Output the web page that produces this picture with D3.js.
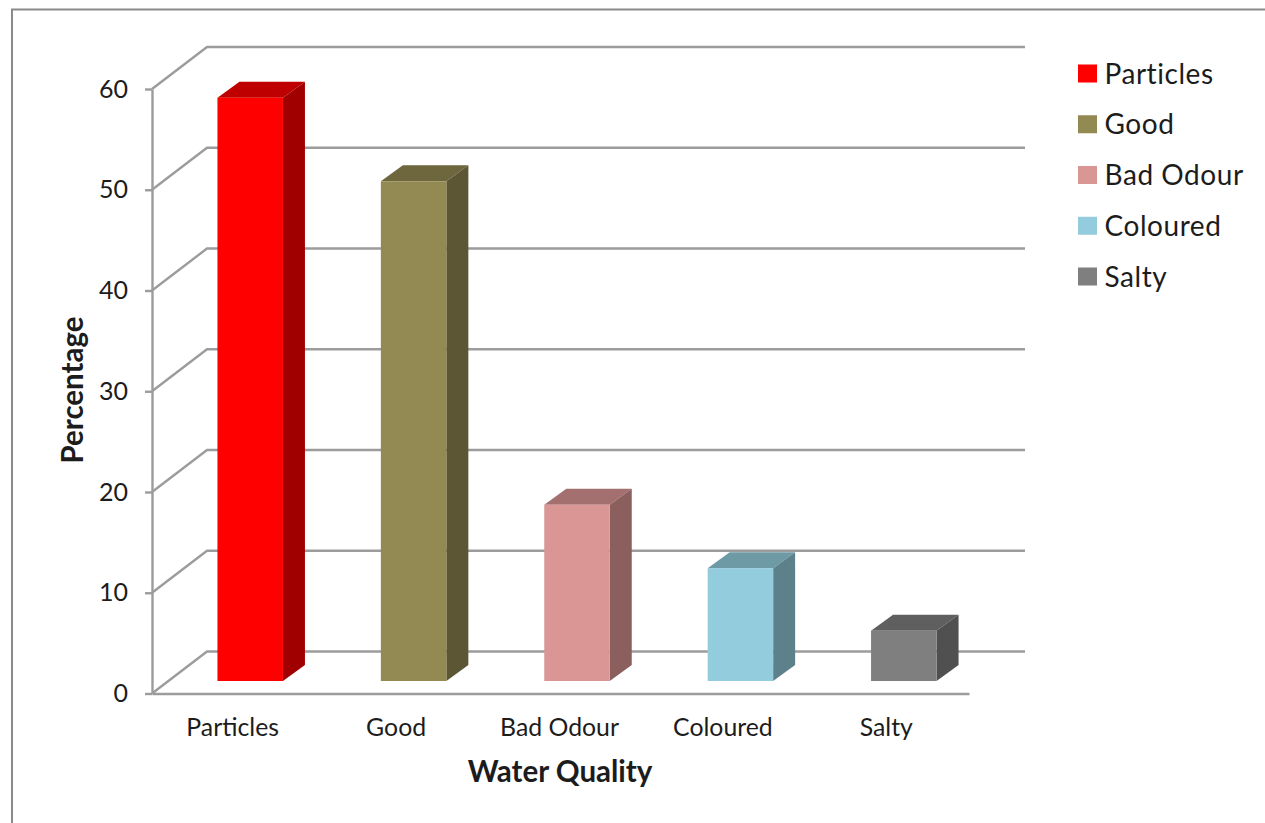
<!DOCTYPE html>
<html><head><meta charset="utf-8">
<script src="https://cdn.jsdelivr.net/npm/d3@7/dist/d3.min.js"></script>
<style>html,body{margin:0;padding:0;background:#fff}svg{display:block}text{font-family:Lato,"Open Sans",sans-serif;fill:#1c1c1c}</style>
</head><body><svg id="c" width="1265" height="823"></svg>
<script>
const categories=["Particles","Good","Bad Odour","Coloured","Salty"];
const values=[57.9,49.6,17.5,11.2,5];
const frontColors=["#ff0000","#938953","#d99694","#93cddd","#7f7f7f"];
const topColors=["#bf0000","#6e673e","#a3706f","#6e9aa6","#5f5f5f"];
const sideColors=["#a00000","#5c5634","#8a5f5e","#5c818b","#505050"];
const yTicks=[0,10,20,30,40,50,60];
const xTitle="Water Quality", yTitle="Percentage";

const svg=d3.select("#c");
const grid="#9c9c9c";
const y=d3.scaleLinear().domain([0,60]).range([693.5,89]);
const x=d3.scaleBand().domain(categories).range([152,969]);
const wallDx=55, wallDy=-42, barBaseDx=16.5, barBaseDy=-12.5, barW=65.5, depthX=22, depthY=-16;

// frame
svg.append("path").attr("d","M12,823V9.5H1265").attr("fill","none").attr("stroke","#8a8a8a").attr("stroke-width",2);

// gridlines: floor/side wall and back wall
svg.append("g").selectAll("path").data(yTicks).join("path")
 .attr("d",d=>`M${x.range()[0]},${y(d)}L${x.range()[0]+wallDx},${y(d)+wallDy}H1025`)
 .attr("fill","none").attr("stroke",grid).attr("stroke-width",2.4);

// axes
const yAxis=d3.axisLeft(y).tickValues(yTicks).tickSize(7).tickPadding(17).tickSizeOuter(0);
const gy=svg.append("g").attr("transform","translate(152,0)").call(yAxis);
gy.selectAll("line,path").attr("stroke",grid).attr("stroke-width",2.4);
gy.selectAll("text").attr("font-size",25).style("font-family","Lato").attr("fill","#1c1c1c").attr("dy","0.32em");

const xAxis=d3.axisBottom(x).tickSize(0).tickPadding(25);
const gx=svg.append("g").attr("transform","translate(0,693.5)").call(xAxis);
gx.select("path").attr("stroke",grid).attr("stroke-width",2.4);
gx.selectAll("text").attr("font-size",24.8).style("font-family","Lato").attr("fill","#1c1c1c").attr("dx",-1);

// bars
const g=svg.append("g");
const bx=d=>x(d)+x.bandwidth()/2-barW/2+barBaseDx;
const by0=y(0)+barBaseDy;
const h=v=>y(0)-y(v);
categories.forEach((c,i)=>{
  const l=bx(c), r=l+barW, t=by0-h(values[i]);
  g.append("path").attr("fill",topColors[i]).attr("d",`M${l},${t}l${depthX},${depthY}h${barW}l${-depthX},${-depthY}z`);
  g.append("path").attr("fill",sideColors[i]).attr("d",`M${r},${t}l${depthX},${depthY}V${by0+depthY}l${-depthX},${-depthY}z`);
  g.append("rect").attr("x",l).attr("y",t).attr("width",barW).attr("height",by0-t).attr("fill",frontColors[i]);
});

// titles
svg.append("text").attr("x",560).attr("y",782).attr("text-anchor","middle").attr("font-size",29.5).attr("font-weight",700).text(xTitle);
svg.append("text").attr("transform","translate(83,390) rotate(-90)").attr("text-anchor","middle").attr("font-size",29.5).attr("font-weight",700).text(yTitle);

// legend
const ly=d3.scalePoint().domain(categories).range([73.5,276.5]);
const lg=svg.append("g").selectAll("g").data(categories).join("g").attr("transform",d=>`translate(1078,${ly(d)})`);
lg.append("rect").attr("y",-9).attr("width",19).attr("height",18).attr("fill",(d,i)=>frontColors[i]);
lg.append("text").attr("x",26.5).attr("y",10).attr("font-size",28).attr("letter-spacing",0.55).text(d=>d);
</script></body></html>
